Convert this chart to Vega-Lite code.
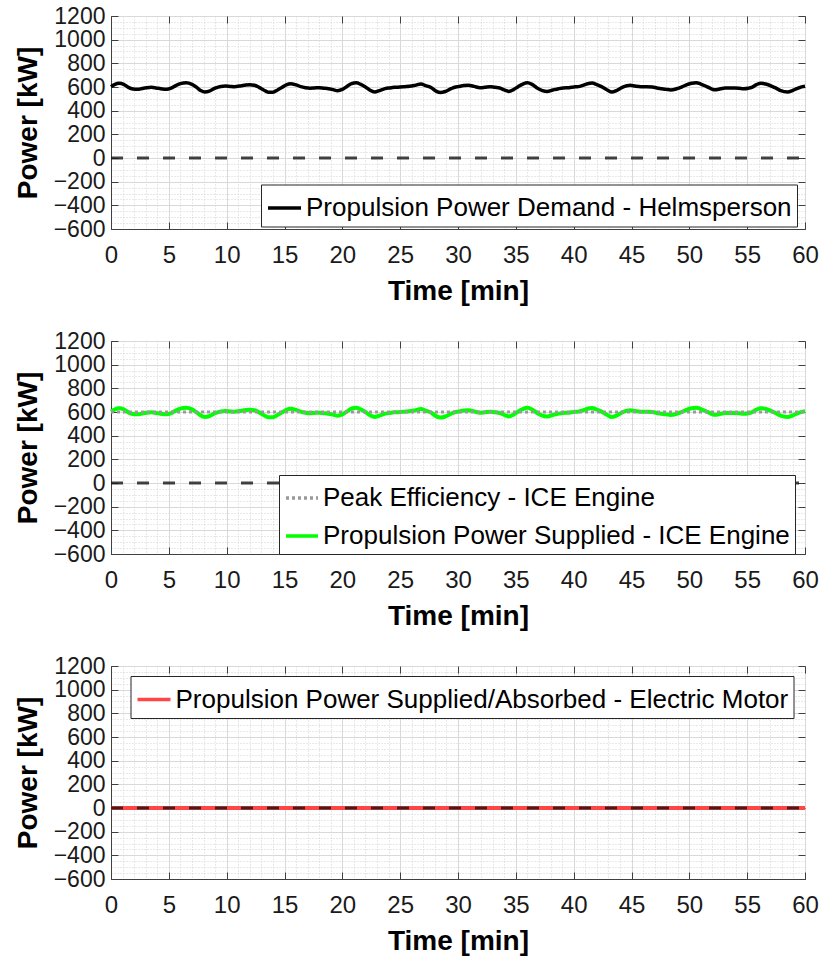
{
  "$schema": "https://vega.github.io/schema/vega-lite/v6.json",
  "padding": {"left": 13, "top": 4, "right": 5, "bottom": 5},
  "spacing": 112,
  "bounds": "flush",
  "config": {
    "font": "Liberation Sans",
    "view": {"stroke": "#404040", "strokeWidth": 1},
    "axis": {"labelFont": "Liberation Sans", "titleFont": "Liberation Sans"},
    "legend": {"labelFont": "Liberation Sans"}
  },
  "resolve": {"scale": {"color": "independent"}, "legend": {"color": "independent"}},
  "datasets": {
    "demand": [
      {"t": 0, "p": 603}, {"t": 0.3, "p": 620}, {"t": 0.7, "p": 631}, {"t": 1.1, "p": 622}, {"t": 1.5, "p": 597},
      {"t": 1.9, "p": 583}, {"t": 2.3, "p": 580}, {"t": 2.7, "p": 588}, {"t": 3.1, "p": 594}, {"t": 3.5, "p": 597},
      {"t": 3.9, "p": 592}, {"t": 4.3, "p": 586}, {"t": 4.8, "p": 580}, {"t": 5.2, "p": 590}, {"t": 5.6, "p": 612},
      {"t": 6.0, "p": 628}, {"t": 6.5, "p": 636}, {"t": 7.0, "p": 622}, {"t": 7.4, "p": 597}, {"t": 7.8, "p": 568},
      {"t": 8.1, "p": 558}, {"t": 8.5, "p": 565}, {"t": 9.0, "p": 590}, {"t": 9.5, "p": 605}, {"t": 9.9, "p": 608},
      {"t": 10.3, "p": 605}, {"t": 10.7, "p": 603}, {"t": 11.1, "p": 608}, {"t": 11.5, "p": 614}, {"t": 12.0, "p": 620},
      {"t": 12.4, "p": 615}, {"t": 12.8, "p": 597}, {"t": 13.2, "p": 575}, {"t": 13.6, "p": 556}, {"t": 14.0, "p": 556},
      {"t": 14.4, "p": 575}, {"t": 14.8, "p": 597}, {"t": 15.2, "p": 620}, {"t": 15.5, "p": 628}, {"t": 16.0, "p": 618},
      {"t": 16.4, "p": 603}, {"t": 16.8, "p": 594}, {"t": 17.2, "p": 590}, {"t": 17.6, "p": 592}, {"t": 18.0, "p": 594},
      {"t": 18.4, "p": 590}, {"t": 18.8, "p": 586}, {"t": 19.2, "p": 578}, {"t": 19.6, "p": 569}, {"t": 20.0, "p": 580},
      {"t": 20.4, "p": 605}, {"t": 20.8, "p": 628}, {"t": 21.2, "p": 636}, {"t": 21.6, "p": 622}, {"t": 22.0, "p": 600},
      {"t": 22.4, "p": 572}, {"t": 22.8, "p": 558}, {"t": 23.2, "p": 570}, {"t": 23.7, "p": 586}, {"t": 24.1, "p": 592},
      {"t": 24.5, "p": 597}, {"t": 25.0, "p": 600}, {"t": 25.4, "p": 603}, {"t": 25.8, "p": 606}, {"t": 26.2, "p": 612},
      {"t": 26.8, "p": 625}, {"t": 27.2, "p": 612}, {"t": 27.7, "p": 594}, {"t": 28.1, "p": 565}, {"t": 28.5, "p": 553},
      {"t": 28.9, "p": 562}, {"t": 29.4, "p": 586}, {"t": 29.8, "p": 600}, {"t": 30.0, "p": 603}, {"t": 30.5, "p": 612},
      {"t": 30.9, "p": 614}, {"t": 31.4, "p": 605}, {"t": 31.9, "p": 594}, {"t": 32.3, "p": 597}, {"t": 32.8, "p": 603},
      {"t": 33.2, "p": 597}, {"t": 33.6, "p": 592}, {"t": 34.0, "p": 575}, {"t": 34.4, "p": 563}, {"t": 34.8, "p": 578},
      {"t": 35.2, "p": 603}, {"t": 35.6, "p": 625}, {"t": 36.0, "p": 636}, {"t": 36.4, "p": 622}, {"t": 36.8, "p": 594},
      {"t": 37.3, "p": 570}, {"t": 37.7, "p": 563}, {"t": 38.2, "p": 575}, {"t": 38.7, "p": 586}, {"t": 39.1, "p": 592},
      {"t": 39.6, "p": 594}, {"t": 40.0, "p": 600}, {"t": 40.4, "p": 603}, {"t": 40.8, "p": 614}, {"t": 41.2, "p": 628},
      {"t": 41.6, "p": 633}, {"t": 42.0, "p": 620}, {"t": 42.4, "p": 603}, {"t": 42.9, "p": 575}, {"t": 43.3, "p": 558},
      {"t": 43.7, "p": 570}, {"t": 44.2, "p": 597}, {"t": 44.6, "p": 610}, {"t": 44.9, "p": 614}, {"t": 45.3, "p": 608},
      {"t": 45.8, "p": 603}, {"t": 46.3, "p": 603}, {"t": 46.8, "p": 600}, {"t": 47.2, "p": 592}, {"t": 47.6, "p": 586},
      {"t": 48.0, "p": 580}, {"t": 48.4, "p": 575}, {"t": 48.9, "p": 585}, {"t": 49.4, "p": 603}, {"t": 49.8, "p": 620},
      {"t": 50.2, "p": 632}, {"t": 50.6, "p": 636}, {"t": 51.0, "p": 625}, {"t": 51.5, "p": 603}, {"t": 51.9, "p": 585},
      {"t": 52.2, "p": 576}, {"t": 52.7, "p": 585}, {"t": 53.1, "p": 592}, {"t": 53.5, "p": 592}, {"t": 53.9, "p": 592},
      {"t": 54.3, "p": 590}, {"t": 54.7, "p": 586}, {"t": 55.1, "p": 590}, {"t": 55.4, "p": 597}, {"t": 55.8, "p": 620},
      {"t": 56.2, "p": 632}, {"t": 56.6, "p": 625}, {"t": 57.1, "p": 608}, {"t": 57.5, "p": 590}, {"t": 57.9, "p": 569},
      {"t": 58.5, "p": 558}, {"t": 58.9, "p": 570}, {"t": 59.3, "p": 586}, {"t": 59.8, "p": 603}, {"t": 60, "p": 606}
    ],
    "peak": [{"t": 0, "p": 600}, {"t": 60, "p": 600}],
    "zero": [{"t": 0, "p": 0}, {"t": 60, "p": 0}],
    "motor": [{"t": 0, "p": 0}, {"t": 60, "p": 0}]
  },
  "vconcat": [
    {
      "width": 694,
      "height": 213,
      "layer": [
        {
          "data": {"name": "demand"},
          "mark": {"type": "line", "strokeWidth": 3.5, "interpolate": "monotone"},
          "encoding": {
            "x": {"field": "t", "type": "quantitative", "scale": {"domain": [0, 60], "nice": false, "zero": false},
              "axis": {"orient": "bottom", "title": "Time [min]", "format": "d",
                "values": [0,1,2,3,4,5,6,7,8,9,10,11,12,13,14,15,16,17,18,19,20,21,22,23,24,25,26,27,28,29,30,31,32,33,34,35,36,37,38,39,40,41,42,43,44,45,46,47,48,49,50,51,52,53,54,55,56,57,58,59,60],
                "labelExpr": "datum.value % 5 === 0 ? datum.label : ''", "labelOverlap": false, "labelFlush": false,
                "labelFontSize": 24, "labelColor": "#1a1a1a", "labelPadding": 21,
                "tickSize": -7, "tickColor": "#404040", "tickOpacity": {"condition": {"test": "datum.value % 5 === 0", "value": 1}, "value": 0},
                "grid": true, "gridColor": {"condition": {"test": "datum.value % 5 === 0", "value": "#d9d9d9"}, "value": "#d2d2d2"},
                "gridDash": {"condition": {"test": "datum.value % 5 === 0", "value": []}, "value": [1, 2]},
                "domainColor": "#404040", "titleFontSize": 28, "titleFontWeight": "bold", "titleColor": "#000", "titlePadding": 10}},
            "y": {"field": "p", "type": "quantitative", "scale": {"domain": [-600, 1200], "nice": false, "zero": false},
              "axis": {"orient": "left", "title": "Power [kW]", "format": "d",
                "values": [-600,-550,-500,-450,-400,-350,-300,-250,-200,-150,-100,-50,0,50,100,150,200,250,300,350,400,450,500,550,600,650,700,750,800,850,900,950,1000,1050,1100,1150,1200],
                "labelExpr": "datum.value % 200 === 0 ? datum.label : ''", "labelOverlap": false, "labelFlush": false,
                "labelFontSize": 23, "labelColor": "#1a1a1a", "labelPadding": 13,
                "tickSize": -7, "tickColor": "#404040", "tickOpacity": {"condition": {"test": "datum.value % 200 === 0", "value": 1}, "value": 0},
                "grid": true, "gridColor": {"condition": {"test": "datum.value % 200 === 0", "value": "#d9d9d9"}, "value": "#d2d2d2"},
                "gridDash": {"condition": {"test": "datum.value % 200 === 0", "value": []}, "value": [1, 2]},
                "domainColor": "#404040", "titleFontSize": 28, "titleFontWeight": "bold", "titleColor": "#000", "titlePadding": 11}},
            "color": {"datum": "Propulsion Power Demand - Helmsperson", "type": "nominal",
              "scale": {"domain": ["Propulsion Power Demand - Helmsperson"], "range": ["#000000"]},
              "legend": {"orient": "none", "legendX": 150, "legendY": 168.5, "title": null,
                "symbolType": "stroke", "symbolStrokeWidth": 3.5, "symbolSize": 1089,
                "labelFontSize": 26, "labelColor": "#000", "labelLimit": 1000, "labelOffset": 3,
                "strokeColor": "#262626", "fillColor": "#ffffff", "padding": 5}}
          }
        },
        {
          "data": {"name": "zero"},
          "mark": {"type": "line", "strokeWidth": 3, "color": "#141414", "opacity": 0.8, "strokeDash": [12, 14]},
          "encoding": {
            "x": {"field": "t", "type": "quantitative",
              "axis": {"orient": "top", "title": null, "labels": false, "grid": false, "domain": false,
                "values": [0,5,10,15,20,25,30,35,40,45,50,55,60], "tickSize": -7, "tickColor": "#404040"}},
            "y": {"field": "p", "type": "quantitative",
              "axis": {"orient": "right", "title": null, "labels": false, "grid": false, "domain": false,
                "values": [-600,-400,-200,0,200,400,600,800,1000,1200], "tickSize": -7, "tickColor": "#404040"}}
          }
        }
      ]
    },
    {
      "width": 694,
      "height": 213,
      "layer": [
        {
          "data": {"name": "demand"},
          "mark": {"type": "line", "strokeWidth": 4, "interpolate": "monotone"},
          "encoding": {
            "x": {"field": "t", "type": "quantitative", "scale": {"domain": [0, 60], "nice": false, "zero": false},
              "axis": {"orient": "bottom", "title": "Time [min]", "format": "d",
                "values": [0,1,2,3,4,5,6,7,8,9,10,11,12,13,14,15,16,17,18,19,20,21,22,23,24,25,26,27,28,29,30,31,32,33,34,35,36,37,38,39,40,41,42,43,44,45,46,47,48,49,50,51,52,53,54,55,56,57,58,59,60],
                "labelExpr": "datum.value % 5 === 0 ? datum.label : ''", "labelOverlap": false, "labelFlush": false,
                "labelFontSize": 24, "labelColor": "#1a1a1a", "labelPadding": 21,
                "tickSize": -7, "tickColor": "#404040", "tickOpacity": {"condition": {"test": "datum.value % 5 === 0", "value": 1}, "value": 0},
                "grid": true, "gridColor": {"condition": {"test": "datum.value % 5 === 0", "value": "#d9d9d9"}, "value": "#d2d2d2"},
                "gridDash": {"condition": {"test": "datum.value % 5 === 0", "value": []}, "value": [1, 2]},
                "domainColor": "#404040", "titleFontSize": 28, "titleFontWeight": "bold", "titleColor": "#000", "titlePadding": 10}},
            "y": {"field": "p", "type": "quantitative", "scale": {"domain": [-600, 1200], "nice": false, "zero": false},
              "axis": {"orient": "left", "title": "Power [kW]", "format": "d",
                "values": [-600,-550,-500,-450,-400,-350,-300,-250,-200,-150,-100,-50,0,50,100,150,200,250,300,350,400,450,500,550,600,650,700,750,800,850,900,950,1000,1050,1100,1150,1200],
                "labelExpr": "datum.value % 200 === 0 ? datum.label : ''", "labelOverlap": false, "labelFlush": false,
                "labelFontSize": 23, "labelColor": "#1a1a1a", "labelPadding": 13,
                "tickSize": -7, "tickColor": "#404040", "tickOpacity": {"condition": {"test": "datum.value % 200 === 0", "value": 1}, "value": 0},
                "grid": true, "gridColor": {"condition": {"test": "datum.value % 200 === 0", "value": "#d9d9d9"}, "value": "#d2d2d2"},
                "gridDash": {"condition": {"test": "datum.value % 200 === 0", "value": []}, "value": [1, 2]},
                "domainColor": "#404040", "titleFontSize": 28, "titleFontWeight": "bold", "titleColor": "#000", "titlePadding": 11}},
            "color": {"datum": "Propulsion Power Supplied - ICE Engine", "type": "nominal",
              "scale": {"domain": ["Peak Efficiency - ICE Engine", "Propulsion Power Supplied - ICE Engine"], "range": ["#9a9a9a", "#00ff00"]},
              "legend": {"orient": "none", "legendX": 168, "legendY": 134, "title": null,
                "symbolType": "stroke", "symbolStrokeWidth": 3.5, "symbolSize": 1024,
                "labelFontSize": 26, "labelColor": "#000", "labelLimit": 1000, "labelOffset": 3, "rowPadding": 7,
                "strokeColor": "#262626", "fillColor": "#ffffff", "padding": 5,
                "encode": {"symbols": {"update": {"strokeDash": {"signal": "datum.value === 'Peak Efficiency - ICE Engine' ? [3, 3] : [1, 0]"}}}}}}
          }
        },
        {
          "data": {"name": "peak"},
          "mark": {"type": "line", "strokeWidth": 3, "strokeDash": [3, 3]},
          "encoding": {
            "x": {"field": "t", "type": "quantitative", "axis": null},
            "y": {"field": "p", "type": "quantitative", "axis": null},
            "color": {"datum": "Peak Efficiency - ICE Engine", "type": "nominal"}
          }
        },
        {
          "data": {"name": "zero"},
          "mark": {"type": "line", "strokeWidth": 3, "color": "#141414", "opacity": 0.8, "strokeDash": [12, 14]},
          "encoding": {
            "x": {"field": "t", "type": "quantitative",
              "axis": {"orient": "top", "title": null, "labels": false, "grid": false, "domain": false,
                "values": [0,5,10,15,20,25,30,35,40,45,50,55,60], "tickSize": -7, "tickColor": "#404040"}},
            "y": {"field": "p", "type": "quantitative",
              "axis": {"orient": "right", "title": null, "labels": false, "grid": false, "domain": false,
                "values": [-600,-400,-200,0,200,400,600,800,1000,1200], "tickSize": -7, "tickColor": "#404040"}}
          }
        }
      ]
    },
    {
      "width": 694,
      "height": 213,
      "layer": [
        {
          "data": {"name": "motor"},
          "mark": {"type": "line", "strokeWidth": 4},
          "encoding": {
            "x": {"field": "t", "type": "quantitative", "scale": {"domain": [0, 60], "nice": false, "zero": false},
              "axis": {"orient": "bottom", "title": "Time [min]", "format": "d",
                "values": [0,1,2,3,4,5,6,7,8,9,10,11,12,13,14,15,16,17,18,19,20,21,22,23,24,25,26,27,28,29,30,31,32,33,34,35,36,37,38,39,40,41,42,43,44,45,46,47,48,49,50,51,52,53,54,55,56,57,58,59,60],
                "labelExpr": "datum.value % 5 === 0 ? datum.label : ''", "labelOverlap": false, "labelFlush": false,
                "labelFontSize": 24, "labelColor": "#1a1a1a", "labelPadding": 21,
                "tickSize": -7, "tickColor": "#404040", "tickOpacity": {"condition": {"test": "datum.value % 5 === 0", "value": 1}, "value": 0},
                "grid": true, "gridColor": {"condition": {"test": "datum.value % 5 === 0", "value": "#d9d9d9"}, "value": "#d2d2d2"},
                "gridDash": {"condition": {"test": "datum.value % 5 === 0", "value": []}, "value": [1, 2]},
                "domainColor": "#404040", "titleFontSize": 28, "titleFontWeight": "bold", "titleColor": "#000", "titlePadding": 10}},
            "y": {"field": "p", "type": "quantitative", "scale": {"domain": [-600, 1200], "nice": false, "zero": false},
              "axis": {"orient": "left", "title": "Power [kW]", "format": "d",
                "values": [-600,-550,-500,-450,-400,-350,-300,-250,-200,-150,-100,-50,0,50,100,150,200,250,300,350,400,450,500,550,600,650,700,750,800,850,900,950,1000,1050,1100,1150,1200],
                "labelExpr": "datum.value % 200 === 0 ? datum.label : ''", "labelOverlap": false, "labelFlush": false,
                "labelFontSize": 23, "labelColor": "#1a1a1a", "labelPadding": 13,
                "tickSize": -7, "tickColor": "#404040", "tickOpacity": {"condition": {"test": "datum.value % 200 === 0", "value": 1}, "value": 0},
                "grid": true, "gridColor": {"condition": {"test": "datum.value % 200 === 0", "value": "#d9d9d9"}, "value": "#d2d2d2"},
                "gridDash": {"condition": {"test": "datum.value % 200 === 0", "value": []}, "value": [1, 2]},
                "domainColor": "#404040", "titleFontSize": 28, "titleFontWeight": "bold", "titleColor": "#000", "titlePadding": 11}},
            "color": {"datum": "Propulsion Power Supplied/Absorbed - Electric Motor", "type": "nominal",
              "scale": {"domain": ["Propulsion Power Supplied/Absorbed - Electric Motor"], "range": ["#ff4646"]},
              "legend": {"orient": "none", "legendX": 19.5, "legendY": 10, "title": null,
                "symbolType": "stroke", "symbolStrokeWidth": 3.5, "symbolSize": 1089,
                "labelFontSize": 26, "labelColor": "#000", "labelLimit": 1000, "labelOffset": 3,
                "strokeColor": "#262626", "fillColor": "#ffffff", "padding": 5}}
          }
        },
        {
          "data": {"name": "zero"},
          "mark": {"type": "line", "strokeWidth": 3, "color": "#141414", "opacity": 0.8, "strokeDash": [12, 14]},
          "encoding": {
            "x": {"field": "t", "type": "quantitative",
              "axis": {"orient": "top", "title": null, "labels": false, "grid": false, "domain": false,
                "values": [0,5,10,15,20,25,30,35,40,45,50,55,60], "tickSize": -7, "tickColor": "#404040"}},
            "y": {"field": "p", "type": "quantitative",
              "axis": {"orient": "right", "title": null, "labels": false, "grid": false, "domain": false,
                "values": [-600,-400,-200,0,200,400,600,800,1000,1200], "tickSize": -7, "tickColor": "#404040"}}
          }
        }
      ]
    }
  ]
}
